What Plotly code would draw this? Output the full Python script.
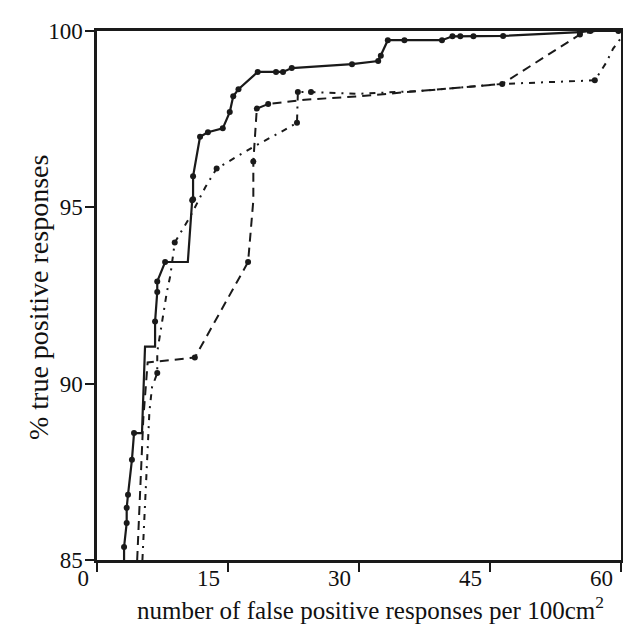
import plotly.graph_objects as go

# Solid curve
solid_x = [3.1, 3.1, 3.4, 3.4, 3.55, 4.0, 4.24, 5.15, 5.5, 6.65, 6.65, 6.9, 6.9, 7.8, 10.4, 10.9, 11.0, 11.0, 11.8,
           12.7, 14.4, 15.2, 15.6, 16.2, 18.4, 20.5, 21.3, 22.3, 29.2, 32.2, 32.5, 33.3, 35.2, 39.5, 40.7,
           41.6, 43.1, 46.5, 55.3, 56.5, 59.7]
solid_y = [85.0, 85.37, 86.05, 86.48, 86.85, 87.84, 88.6, 88.6, 91.05, 91.05, 91.76, 92.6, 92.9, 93.45, 93.45, 95.2,
           95.23, 95.88, 97.0, 97.13, 97.24, 97.7, 98.15, 98.35, 98.84, 98.84, 98.84, 98.95, 99.06, 99.15,
           99.3, 99.74, 99.74, 99.74, 99.85, 99.85, 99.85, 99.86, 99.97, 100.0, 100.0]
solid_dot = [False, True, True, True, True, True, True, False, False, False, True, True, True, True, False, True,
             True, True, True, True, True, True, True, True, True, True, True, True, True, True,
             True, True, True, True, True, True, True, True, True, True, True]

# Dashed curve
dash_x = [4.6, 5.3, 5.8, 11.2, 17.3, 17.9, 17.9, 18.3, 19.6, 23.8, 30.0, 37.0, 46.4, 55.3, 57.0, 60.0]
dash_y = [85.0, 89.0, 90.6, 90.74, 93.45, 95.2, 96.3, 97.8, 97.93, 98.05, 98.15, 98.3, 98.5, 99.9, 100.0, 100.0]
dash_dots_x = [11.2, 17.3, 17.9, 18.3, 19.6, 46.4, 55.3]
dash_dots_y = [90.74, 93.45, 96.3, 97.8, 97.93, 98.5, 99.9]

# Dash-dot curve
dd_x = [5.2, 5.6, 6.0, 6.3, 6.9, 6.9, 7.4, 8.0, 8.4, 8.9, 10.7, 12.4, 13.7, 16.2, 17.8, 21.0, 22.9,
        23.0, 24.5, 30.0, 37.0, 46.4, 57.0, 58.3, 59.1, 60.0]
dd_y = [85.0, 87.0, 89.2, 89.9, 90.3, 90.9, 91.7, 92.6, 93.07, 94.0, 94.75, 95.57, 96.1, 96.48, 96.7,
        97.13, 97.4, 98.27, 98.27, 98.22, 98.3, 98.5, 98.6, 99.1, 99.5, 99.8]
dd_dots_x = [6.9, 8.9, 13.7, 22.9, 23.0, 24.5, 57.0]
dd_dots_y = [90.3, 94.0, 96.1, 97.4, 98.27, 98.27, 98.6]

x_ticks = [0, 15, 30, 45, 60]
x_tick_labels = ["0", "15", "30", "45", "60"]
y_ticks = [85, 90, 95, 100]
x_title = "number of false positive responses per 100cm<sup>2</sup>"
y_title = "% true positive responses"

ink = "#1a1a1a"
fig = go.Figure()
fig.add_trace(go.Scatter(x=dd_x, y=dd_y, mode="lines",
                         line=dict(color=ink, width=2, dash="6px,6px,2px,6px")))
fig.add_trace(go.Scatter(x=dd_dots_x, y=dd_dots_y, mode="markers", marker=dict(color=ink, size=6)))
fig.add_trace(go.Scatter(x=dash_x, y=dash_y, mode="lines",
                         line=dict(color=ink, width=2, dash="9px,6px")))
fig.add_trace(go.Scatter(x=dash_dots_x, y=dash_dots_y, mode="markers", marker=dict(color=ink, size=6)))
fig.add_trace(go.Scatter(x=solid_x, y=solid_y, mode="lines", line=dict(color=ink, width=2.2)))
fig.add_trace(go.Scatter(x=[x for x, d in zip(solid_x, solid_dot) if d],
                         y=[y for y, d in zip(solid_y, solid_dot) if d],
                         mode="markers", marker=dict(color=ink, size=6)))

font = dict(family="Liberation Serif, Times New Roman, serif", color="#111", size=23)
W, H = 631, 636
ml, mr, mt, mb = 89, 18, 23, 84
pw, ph = W - ml - mr, H - mt - mb
fig.update_layout(
    width=W, height=H,
    margin=dict(l=ml, r=mr, t=mt, b=mb, autoexpand=False),
    plot_bgcolor="white", paper_bgcolor="white",
    showlegend=False,
    font=font,
    xaxis=dict(range=[0, 60], tickvals=x_ticks, ticktext=[t + "\u00a0" for t in x_tick_labels],
               ticks="outside", ticklen=9, tickwidth=2,
               tickcolor=ink, showline=True, linecolor=ink, linewidth=2.5, mirror=True,
               showgrid=False, zeroline=False, automargin=False, ticklabeloverflow="allow",
               ticklabelposition="outside left", ticklabelstandoff=-4),
    yaxis=dict(range=[85, 100], tickvals=y_ticks, ticks="outside", ticklen=9, tickwidth=2,
               tickcolor=ink, showline=True, linecolor=ink, linewidth=2.5, mirror=True,
               showgrid=False, zeroline=False, automargin=False, ticklabelstandoff=-2),
)
# axis titles placed as annotations (page coords minus 8px body offset)
fig.add_annotation(text=x_title, xref="paper", yref="paper",
                   x=(370 - 8 - ml) / pw, y=-(608 - 8 - (mt + ph)) / ph,
                   showarrow=False, xanchor="center", yanchor="middle", font=dict(size=25))
fig.add_annotation(text=y_title, xref="paper", yref="paper",
                   x=-(ml - (38 - 8)) / pw, y=1 - (298 - 8 - mt) / ph, textangle=-90,
                   showarrow=False, xanchor="center", yanchor="middle", font=dict(size=28))
fig.write_html("out.html")
